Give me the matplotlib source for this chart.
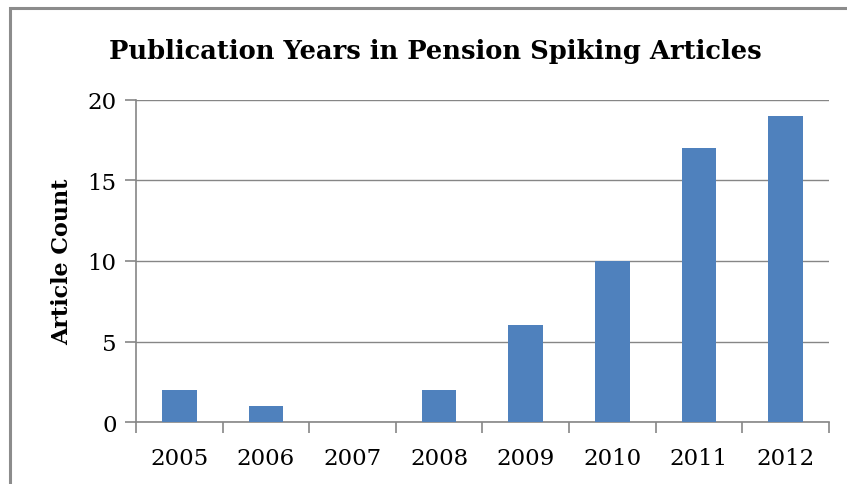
import matplotlib.pyplot as plt
from matplotlib.patches import Rectangle

# Article counts per publication year
years = ['2005', '2006', '2007', '2008', '2009', '2010', '2011', '2012']
counts = [2, 1, 0, 2, 6, 10, 17, 19]

plt.rcParams['font.family'] = ['DejaVu Serif']
grey = '#868686'

fig = plt.figure(figsize=(8.47, 4.85), dpi=100)
ax = fig.add_axes([0.1606, 0.1278, 0.818, 0.664])

x = range(len(years))
ax.bar(x, counts, width=0.4, color='#4f81bd', zorder=3)

ax.set_xlim(-0.5, len(years) - 0.5)
ax.set_ylim(0, 20)
ax.set_yticks([0, 5, 10, 15, 20])
ax.set_xticks(list(x))
ax.set_xticklabels(years)
# category boundary ticks like a spreadsheet chart
ax.set_xticks([i - 0.5 for i in range(len(years) + 1)], minor=True)
ax.tick_params(axis='x', which='major', length=0, pad=18, labelsize=16.5)
ax.tick_params(axis='x', which='minor', length=8, color=grey, width=1.2)
ax.tick_params(axis='y', length=8, color=grey, width=1.2, labelsize=16.5, pad=6)

ax.yaxis.grid(True, color=grey, linewidth=1.0, zorder=0)
for side in ['top', 'right']:
    ax.spines[side].set_visible(False)
for side in ['left', 'bottom']:
    ax.spines[side].set_color(grey)
    ax.spines[side].set_linewidth(1.2)

ax.set_ylabel('Article Count', fontsize=16, fontweight='bold', labelpad=10)
fig.text(0.514, 0.893, 'Publication Years in Pension Spiking Articles',
         ha='center', va='center', fontsize=18.5, fontweight='bold')

# outer chart frame
fig.patches.append(Rectangle((10 / 847, -0.1), 1.2, (485 - 9) / 485 + 0.1,
                             transform=fig.transFigure, fill=False,
                             edgecolor='#8c8c8c', linewidth=2.2))

fig.savefig('out.png', dpi=100)
